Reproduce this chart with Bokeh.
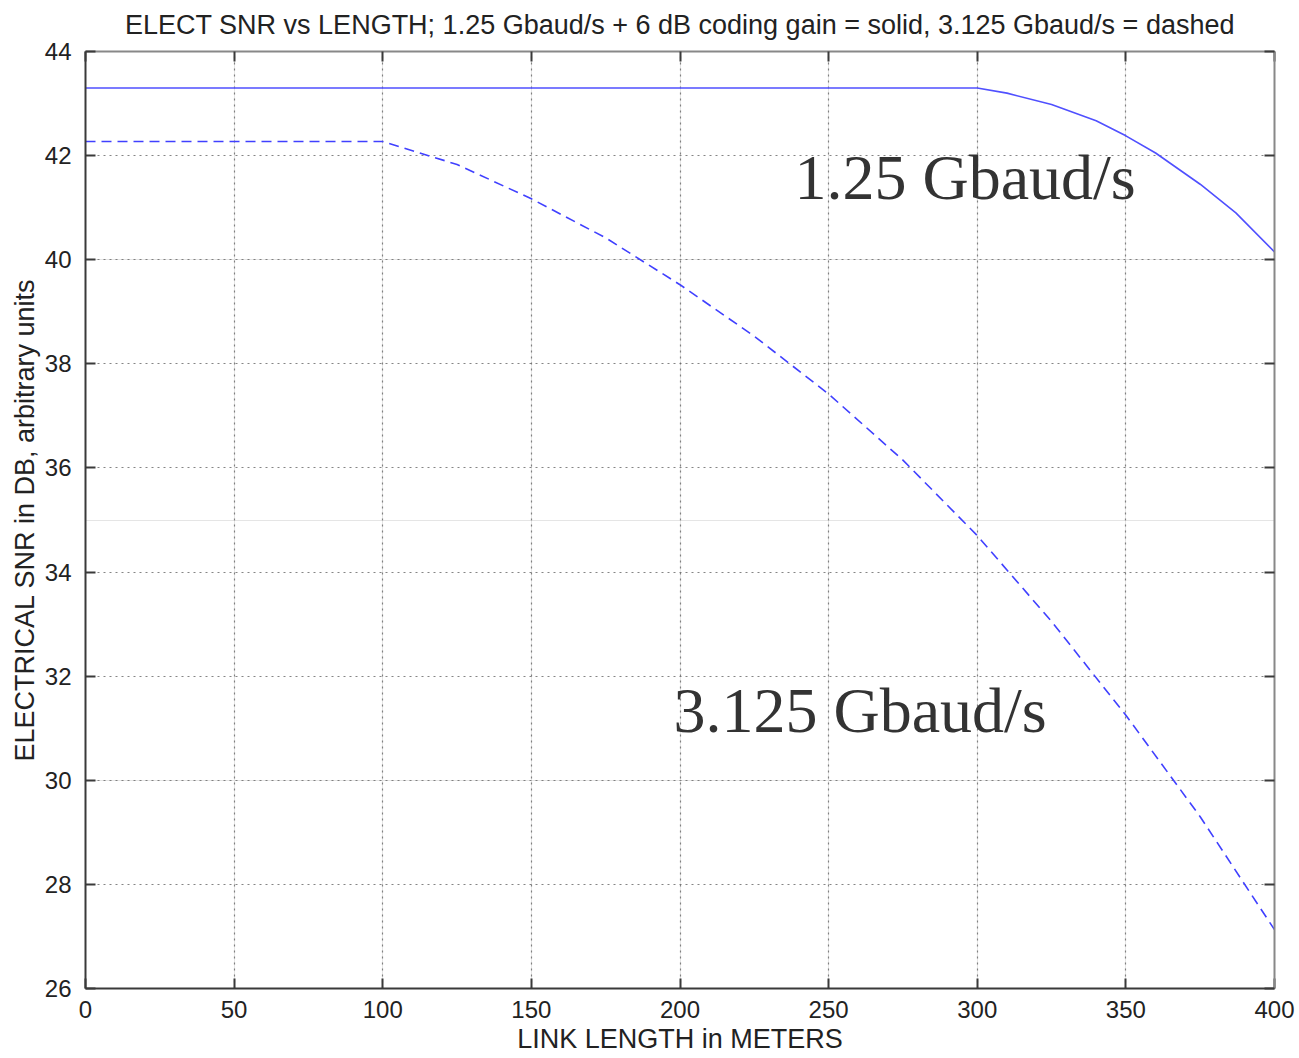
from bokeh.plotting import figure
from bokeh.models import Range1d, LinearAxis, SingleIntervalTicker, Label, ColumnDataSource, Grid
from bokeh.embed import file_html
from bokeh.resources import INLINE

# Data
length_solid = [0, 100, 200, 300, 310, 325, 340, 350, 360, 375, 387, 400]
snr_solid = [43.3, 43.3, 43.3, 43.3, 43.2, 42.98, 42.67, 42.38, 42.05, 41.45, 40.9, 40.15]

length_dashed = [0, 50, 100, 125, 150, 175, 200, 225, 250, 275, 300, 325, 350, 375, 400]
snr_dashed = [42.27, 42.27, 42.27, 41.83, 41.17, 40.42, 39.52, 38.53, 37.42, 36.15, 34.70, 33.05, 31.25, 29.3, 27.13]

x_ticks = [0, 50, 100, 150, 200, 250, 300, 350, 400]
y_ticks = [26, 28, 30, 32, 34, 36, 38, 40, 42, 44]

label_solid = "1.25 Gbaud/s"
label_solid_pos = (238.5, 41.57)
label_dashed = "3.125 Gbaud/s"
label_dashed_pos = (197.8, 31.34)

title_text = "ELECT SNR vs LENGTH; 1.25 Gbaud/s + 6 dB coding gain = solid, 3.125 Gbaud/s = dashed"
x_label = "LINK LENGTH in METERS"
y_label = "ELECTRICAL SNR in DB, arbitrary units"

FONT = "Liberation Sans"
AX = "#3a3a3a"

p = figure(width=1299, height=1058, output_backend="svg", toolbar_location=None,
           x_range=Range1d(0, 400), y_range=Range1d(26, 44),
           min_border_left=85, min_border_right=25, min_border_top=49, min_border_bottom=70,
           x_axis_location=None, y_axis_location=None)

p.title.text = title_text
p.title.align = "center"
p.title.text_font = FONT
p.title.text_font_size = "27px"
p.title.text_font_style = "normal"
p.title.text_color = "#222222"
p.title.standoff = 15

def style_axis(ax, show_labels=True):
    ax.axis_line_color = AX
    ax.axis_line_width = 2
    ax.major_tick_in = 10
    ax.major_tick_out = 0
    ax.major_tick_line_color = AX
    ax.major_tick_line_width = 2
    ax.minor_tick_line_color = None
    ax.major_label_text_font = FONT
    ax.major_label_text_font_size = "24px"
    ax.major_label_text_color = "#222222"
    ax.axis_label_text_font = FONT
    ax.axis_label_text_font_size = "27px"
    ax.axis_label_text_font_style = "normal"
    ax.axis_label_text_color = "#222222"
    if not show_labels:
        ax.major_label_text_font_size = "0px"
        ax.major_label_standoff = 0

xb = LinearAxis(ticker=SingleIntervalTicker(interval=50), axis_label=x_label)
style_axis(xb)
xb.major_label_standoff = 8
xb.axis_label_standoff = 3
p.add_layout(xb, "below")

yl = LinearAxis(ticker=SingleIntervalTicker(interval=2), axis_label=y_label)
style_axis(yl)
yl.major_label_standoff = 10
yl.axis_label_standoff = 2
p.add_layout(yl, "left")

xt = LinearAxis(ticker=SingleIntervalTicker(interval=50))
style_axis(xt, show_labels=False)
xt.axis_line_color = "#888888"
p.add_layout(xt, "above")

yr = LinearAxis(ticker=SingleIntervalTicker(interval=2))
style_axis(yr, show_labels=False)
yr.axis_line_color = "#888888"
p.add_layout(yr, "right")

p.outline_line_color = None
p.background_fill_color = "white"
p.border_fill_color = "white"

p.add_layout(Grid(dimension=0, ticker=xb.ticker, grid_line_color="#666666",
                  grid_line_dash="2 4", grid_line_width=1.2, grid_line_alpha=0.8))
p.add_layout(Grid(dimension=1, ticker=yl.ticker, grid_line_color="#666666",
                  grid_line_dash="2 4", grid_line_width=1.2, grid_line_alpha=0.8))

src_s = ColumnDataSource(dict(x=length_solid, y=snr_solid))
src_d = ColumnDataSource(dict(x=length_dashed, y=snr_dashed))
p.line("x", "y", source=src_s, line_color="#5050ff", line_width=1.6)
p.line("x", "y", source=src_d, line_color="#4040ff", line_width=1.6, line_dash="10 6")

for txt, (lx, ly) in [(label_solid, label_solid_pos), (label_dashed, label_dashed_pos)]:
    p.add_layout(Label(x=lx, y=ly, text=txt, text_font="Liberation Serif",
                       text_font_size="64px", text_color="#333333",
                       text_baseline="alphabetic", text_align="left"))

open("out.html", "w").write(file_html(p, INLINE))
